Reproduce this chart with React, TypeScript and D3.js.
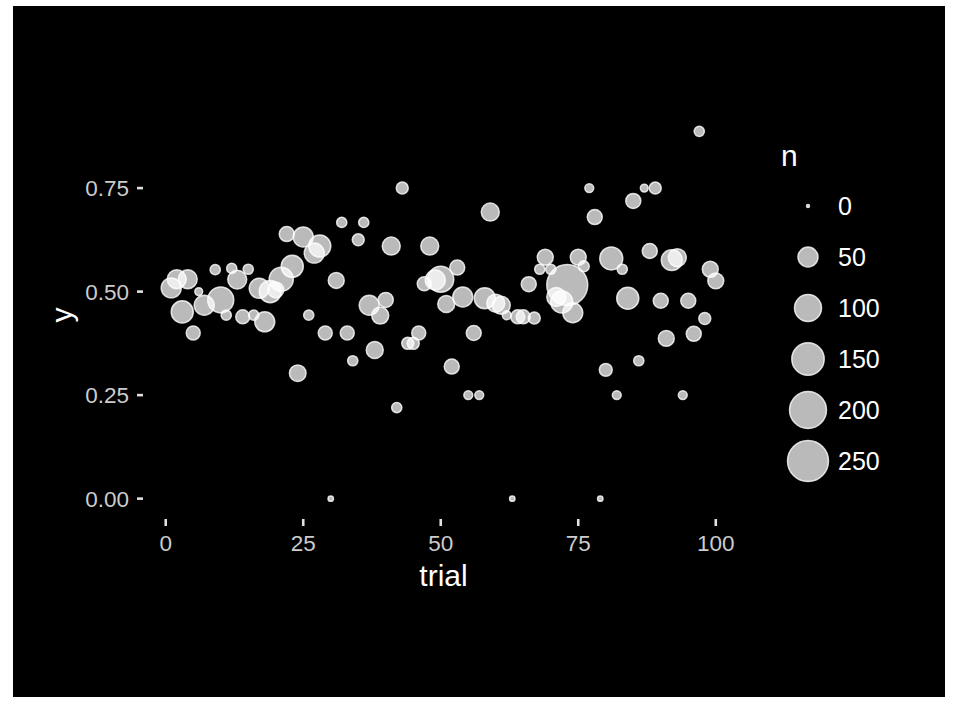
import React from "react";
import * as d3 from "d3";

const trials = [1,2,3,4,5,6,7,9,10,11,12,13,14,15,16,17,18,19,20,21,22,23,24,25,26,27,28,29,30,31,32,33,34,35,36,37,38,39,40,41,42,43,44,45,46,47,48,49,50,51,52,53,54,55,56,57,58,59,60,61,62,63,64,65,66,67,68,69,70,71,72,73,74,75,76,77,78,79,80,81,82,83,84,85,86,87,88,89,90,91,92,93,94,95,96,97,98,99,100];
const yValues = [0.509,0.53,0.451,0.53,0.4,0.5,0.467,0.553,0.48,0.443,0.556,0.529,0.439,0.554,0.443,0.508,0.427,0.5,0.504,0.53,0.639,0.561,0.303,0.632,0.443,0.593,0.61,0.4,0,0.527,0.667,0.4,0.333,0.625,0.667,0.467,0.359,0.442,0.48,0.61,0.22,0.75,0.375,0.375,0.4,0.519,0.61,0.528,0.53,0.47,0.319,0.558,0.487,0.25,0.4,0.25,0.484,0.692,0.472,0.467,0.443,0,0.439,0.439,0.518,0.436,0.554,0.583,0.554,0.487,0.475,0.516,0.449,0.583,0.561,0.75,0.68,0,0.311,0.58,0.25,0.554,0.484,0.719,0.333,0.75,0.598,0.75,0.478,0.387,0.576,0.582,0.25,0.478,0.398,0.887,0.435,0.554,0.526];
const nValues = [50,44,63,44,21,4,50,9,92,9,9,44,21,9,9,50,50,63,29,77,25,63,32,50,9,50,63,21,1,29,9,21,9,14,9,50,34,34,25,39,9,14,14,14,21,21,39,50,92,34,25,25,50,6,25,6,56,39,39,39,6,1,21,21,25,14,9,29,9,44,63,250,50,29,11,6,25,1,17,69,6,9,63,25,9,4,25,14,25,29,56,39,6,25,25,9,14,29,29];
const legendBreaks = [0, 50, 100, 150, 200, 250];
const xTicks = [0, 25, 50, 75, 100];
const yTicks = [0, 0.25, 0.5, 0.75];

const W = 963, H = 703;
const bg = { x: 13, y: 6, w: 932, h: 691 };
const panel = { left: 144, right: 743, top: 113, bottom: 517 };

export default function App() {
  const data = trials.map((t, i) => ({ t, y: yValues[i], n: nValues[i] }));
  const xExt = d3.extent(trials) as [number, number];
  const yExt = d3.extent(yValues) as [number, number];
  const xPad = (xExt[1] - xExt[0]) * 0.05;
  const yPad = (yExt[1] - yExt[0]) * 0.05;
  const x = d3.scaleLinear().domain([xExt[0] - xPad, xExt[1] + xPad]).range([panel.left, panel.right]);
  const y = d3.scaleLinear().domain([yExt[0] - yPad, yExt[1] + yPad]).range([panel.bottom, panel.top]);
  const r = d3.scaleSqrt().domain([0, 250]).range([1.5, 1.5 + 1.2 * Math.sqrt(250)]);
  const fmt = d3.format(".2f");
  const font = "'Liberation Sans', Arial, Helvetica, sans-serif";
  const fill = "rgba(255,255,255,0.73)";
  const stroke = "rgba(255,255,255,0.8)";
  const legX = 808, legY0 = 206, legStep = 51;

  return (
    <svg width={W} height={H} style={{ position: "absolute", left: 0, top: 0 }} fontFamily={font}>
      <rect x={0} y={0} width={W} height={H} fill="#ffffff" />
      <rect x={bg.x} y={bg.y} width={bg.w} height={bg.h} fill="#000000" />
      {yTicks.map((v) => (
        <g key={"yt" + v}>
          <line x1={panel.left - 7} x2={panel.left - 1} y1={y(v)} y2={y(v)} stroke="#e0e0e0" strokeWidth={2.6} />
          <text x={panel.left - 15} y={y(v)} dy="0.36em" textAnchor="end" fontSize={22.5} fill="#cccccc">{fmt(v)}</text>
        </g>
      ))}
      {xTicks.map((v) => (
        <g key={"xt" + v}>
          <line x1={x(v)} x2={x(v)} y1={panel.bottom + 2} y2={panel.bottom + 9} stroke="#e0e0e0" strokeWidth={2.6} />
          <text x={x(v)} y={panel.bottom + 34} textAnchor="middle" fontSize={22.5} fill="#cccccc">{v}</text>
        </g>
      ))}
      <text x={(panel.left + panel.right) / 2} y={586} textAnchor="middle" fontSize={30} fill="#ffffff">trial</text>
      <text transform={`translate(72,${(panel.top + panel.bottom) / 2}) rotate(-90)`} textAnchor="middle" fontSize={30} fill="#ffffff">y</text>
      {data.map((d, i) => (
        <circle key={i} cx={x(d.t)} cy={y(d.y)} r={r(d.n)} fill={fill} stroke={stroke} strokeWidth={1.5} />
      ))}
      <text x={781} y={166} fontSize={30} fill="#ffffff">n</text>
      {legendBreaks.map((b, i) => (
        <g key={"lg" + b}>
          <circle cx={legX} cy={legY0 + i * legStep} r={r(b)} fill={fill} stroke={stroke} strokeWidth={1.5} />
          <text x={838} y={legY0 + i * legStep} dy="0.36em" fontSize={25} fill="#ffffff">{b}</text>
        </g>
      ))}
    </svg>
  );
}
